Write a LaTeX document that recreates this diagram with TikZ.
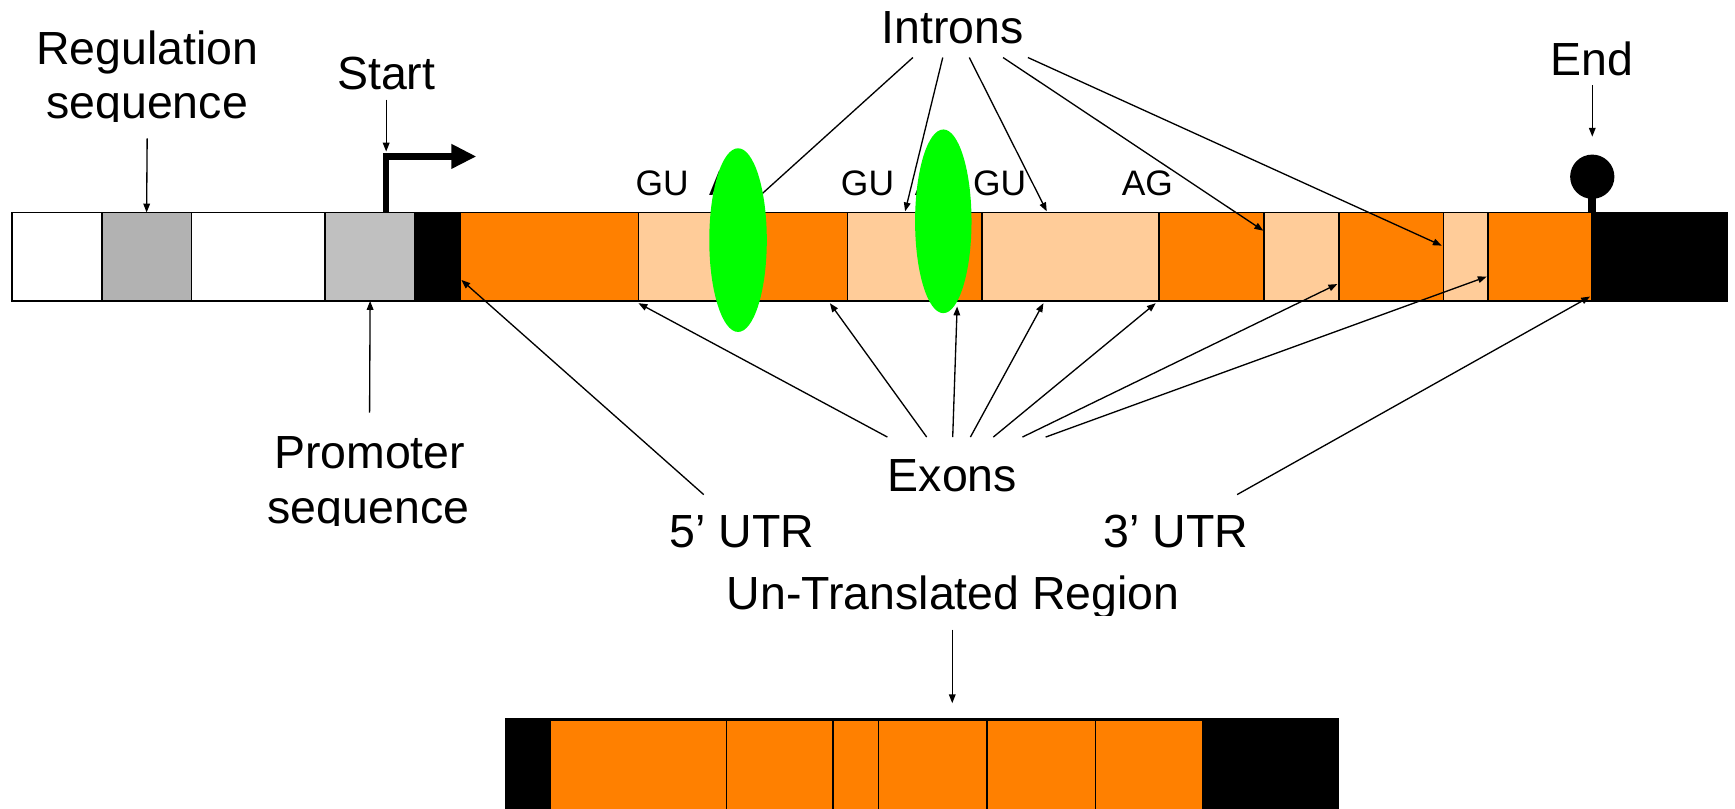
\documentclass[tikz,border=0pt]{standalone}
\usepackage{fontspec}
\setmainfont{Liberation Sans}
\usetikzlibrary{arrows.meta}
\definecolor{exonorange}{RGB}{255,128,0}
\definecolor{intronpeach}{RGB}{255,204,153}
\definecolor{reggray}{RGB}{178,178,178}
\definecolor{promgray}{RGB}{192,192,192}
\definecolor{spliceg}{RGB}{0,255,0}
\begin{document}
\begin{tikzpicture}[x=1pt,y=-1pt,
  seg/.style={draw=black,line width=1.5pt,inner sep=0pt,outer sep=0pt,minimum height=80pt},
  bseg/.style={draw=black,line width=1.5pt,inner sep=0pt,outer sep=0pt,minimum height=90pt,fill=exonorange},
  big/.style={font=\fontsize{42}{48}\selectfont,inner sep=0pt,anchor=base},
  small/.style={font=\fontsize{32}{38}\selectfont,inner sep=0pt,anchor=base},
  arr/.style={line width=1.2pt,-{Triangle[length=8pt,width=6pt]}},
  splice/.style={fill=spliceg}
]
\useasboundingbox (0,0) rectangle (1568,731);

% ---------- main gene bar ----------
\node[seg,fill=white,minimum width=81pt]        (s1) at (51.5,232) {};
\node[seg,fill=reggray,minimum width=81pt]      (s2) at (132.5,232) {};
\node[seg,fill=white,minimum width=121pt]       (s3) at (233.5,232) {};
\node[seg,fill=promgray,minimum width=81pt]     (s4) at (334.5,232) {};
\node[seg,fill=black,minimum width=40.5pt]      (s5) at (395.25,232) {};
\node[seg,fill=exonorange,minimum width=161.5pt](e1) at (496.25,232) {};
\node[seg,fill=intronpeach,minimum width=107pt] (i1) at (630.5,232) {};
\node[seg,fill=exonorange,minimum width=82pt]   (e2) at (725,232) {};
\node[seg,fill=intronpeach,minimum width=94pt]  (i2) at (813,232) {};
\node[seg,fill=exonorange,minimum width=27.5pt] (e3) at (873.75,232) {};
\node[seg,fill=intronpeach,minimum width=160.2pt](i3) at (967.6,232) {};
\node[seg,fill=exonorange,minimum width=94.9pt] (e4) at (1095.15,232) {};
\node[seg,fill=intronpeach,minimum width=67.4pt](i4) at (1176.3,232) {};
\node[seg,fill=exonorange,minimum width=94.4pt] (e5) at (1257.2,232) {};
\node[seg,fill=intronpeach,minimum width=40.6pt](i5) at (1324.7,232) {};
\node[seg,fill=exonorange,minimum width=93.5pt] (e6) at (1391.75,232) {};
\node[seg,fill=black,minimum width=122.5pt]     (s6) at (1499.75,232) {};

% ---------- promoter (bent arrow) and terminator ----------
\draw[line width=6pt,line join=miter] (348.7,192) -- (348.7,141.5) -- (409,141.5);
\fill (408,130) -- (430,141.4) -- (408,152.7) -- cycle;
\fill (1435.5,176) rectangle (1442,192);
\fill (1439,159.7) circle (20pt);

% ---------- splice site labels ----------
\node[small] (gu1) at (598.5,177) {GU};
\node[small] (ag1) at (664,177) {AG};
\node[small] (gu2) at (784,177) {GU};
\node[small] (ag2) at (850,177) {AG};
\node[small] (gu3) at (903.5,177) {GU};
\node[small] (ag3) at (1037,177) {AG};

% ---------- text labels ----------
\node[big] (reg1) at (133,58.7) {Regulation};
\begin{scope}
  \clip (0,60) rectangle (300,110);
  \node[big] (reg2) at (133,107) {sequence};
\end{scope}
\node[big] (start) at (349,81) {Start};
\node[big] (introns) at (861,39) {Introns};
\node[big] (endlbl) at (1439,67.8) {End};
\node[big] (prom1) at (334,423) {Promoter};
\begin{scope}
  \clip (150,430) rectangle (520,475);
  \node[big] (prom2) at (333,473) {sequence};
\end{scope}
\node[big] (exons) at (860.7,444) {Exons};
\node[big] (utr5) at (670.5,495) {5’ UTR};
\node[big] (utr3) at (1062.7,495) {3’ UTR};
\begin{scope}
  \clip (600,505) rectangle (1130,556);
  \node[big] (untr) at (861.5,551) {Un-Translated Region};
\end{scope}

% ---------- arrow end points ----------
\coordinate (regT) at (133,125);
\coordinate (startT) at (349,90);
\coordinate (startH) at (349,137);
\coordinate (endT) at (1439,77);
\coordinate (endH) at (1439,123.5);
\coordinate (promT) at (334,373);
\coordinate (utr5T) at (636,447);
\coordinate (utr5H) at (417,253);
\coordinate (utr3T) at (1118,447);
\coordinate (utr3H) at (1437,268);
\coordinate (untrT) at (860.6,569);
\coordinate (untrH) at (860.6,635.5);

\coordinate (inA) at (825,52);   \coordinate (inAh) at (670,192);
\coordinate (inB) at (852,52);   \coordinate (inBh) at (818,191);
\coordinate (inC) at (876,52);   \coordinate (inCh) at (946,191);
\coordinate (inD) at (906.5,52); \coordinate (inDh) at (1141.7,208.5);
\coordinate (inE) at (929,52);   \coordinate (inEh) at (1303,222);

\coordinate (exA) at (802,395);   \coordinate (exAh) at (577,274);
\coordinate (exB) at (837.5,395); \coordinate (exBh) at (750,274);
\coordinate (exC) at (861,395);   \coordinate (exCh) at (865,277);
\coordinate (exD) at (877,395);   \coordinate (exDh) at (943,274);
\coordinate (exE) at (897.7,395); \coordinate (exEh) at (1044.5,274);
\coordinate (exF) at (924,395);   \coordinate (exFh) at (1208.6,256.7);
\coordinate (exG) at (945,395);   \coordinate (exGh) at (1343.6,250);

% ---------- intron arrows (under the splicing ellipses) ----------
\draw[arr] (inA) -- (inAh);
\draw[arr] (inB) -- (inBh);
\draw[arr] (inC) -- (inCh);
\draw[arr] (inD) -- (inDh);
\draw[arr] (inE) -- (inEh);

% ---------- splicing ellipses ----------
\fill[splice] (667,217) ellipse [x radius=26pt, y radius=83pt];
\fill[splice] (852.5,200) ellipse [x radius=25.5pt, y radius=83pt];

% ---------- exon arrows ----------
\draw[arr] (exA) -- (exAh);
\draw[arr] (exB) -- (exBh);
\draw[arr] (exC) -- (exCh);
\draw[arr] (exD) -- (exDh);
\draw[arr] (exE) -- (exEh);
\draw[arr] (exF) -- (exFh);
\draw[arr] (exG) -- (exGh);

% ---------- other arrows ----------
\draw[arr] (regT) -- (s2.north);
\draw[arr] (startT) -- (startH);
\draw[arr] (endT) -- (endH);
\draw[arr] (promT) -- (s4.south);
\draw[arr] (utr5T) -- (utr5H);
\draw[arr] (utr3T) -- (utr3H);
\draw[arr] (untrT) -- (untrH);

% ---------- mature mRNA bar ----------
\begin{scope}
  \clip (0,0) rectangle (1568,731);
  \fill (456,649) rectangle (1210,745);
  \node[bseg,minimum width=159.2pt] (m1) at (577.1,696) {};
  \node[bseg,minimum width=96.3pt]  (m2) at (704.85,696) {};
  \node[bseg,minimum width=41pt]    (m3) at (773.5,696) {};
  \node[bseg,minimum width=97.7pt]  (m4) at (842.85,696) {};
  \node[bseg,minimum width=98.3pt]  (m5) at (940.85,696) {};
  \node[bseg,minimum width=97pt]    (m6) at (1038.5,696) {};
\end{scope}
\end{tikzpicture}
\end{document}
